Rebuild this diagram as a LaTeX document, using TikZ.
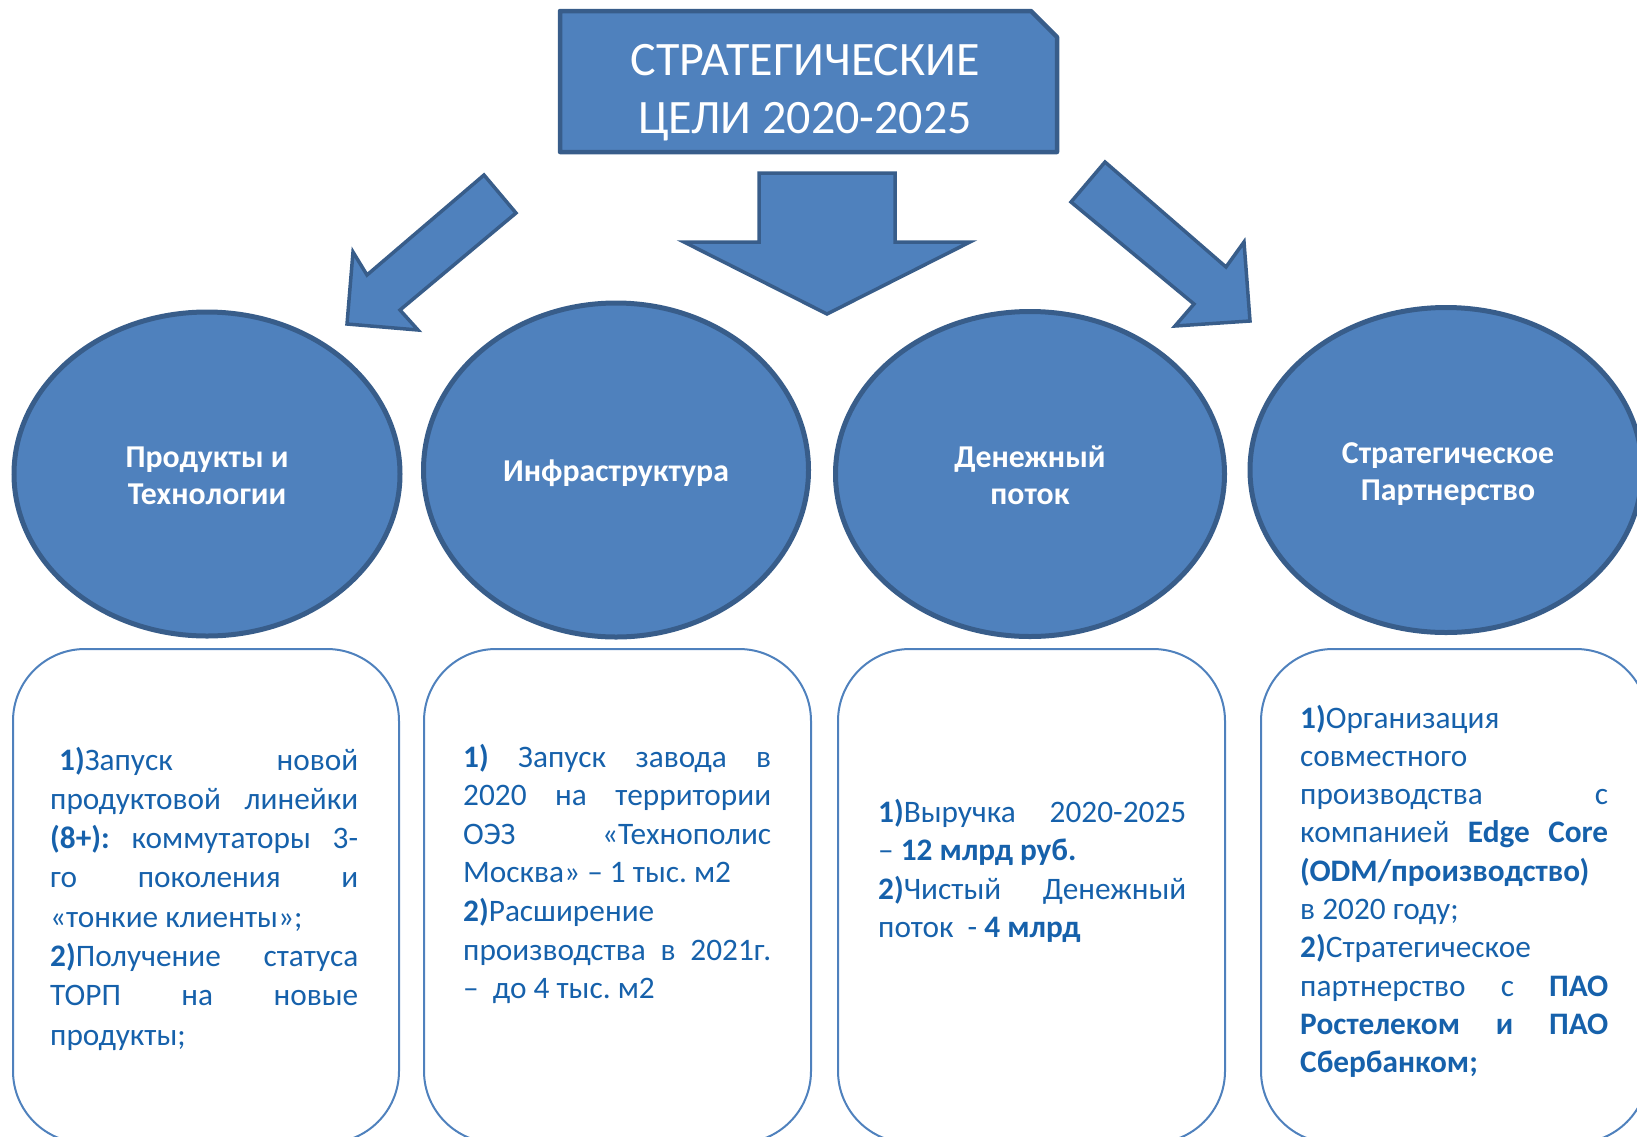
\documentclass[tikz,border=0pt]{standalone}
\usepackage{fontspec}
\setmainfont{Carlito}
\usetikzlibrary{shapes.geometric}
\definecolor{fillblue}{RGB}{79,129,189}
\definecolor{edgeblue}{RGB}{56,93,138}
\definecolor{txtblue}{RGB}{22,97,171}
\newcommand{\jl}[1]{\makebox[308pt][s]{\spaceskip=0.226em plus 1fil\relax\xspaceskip=0pt\relax #1}\\}
\frenchspacing
\begin{document}
\begin{tikzpicture}[x=1pt,y=-1pt,
  natspace/.style={execute at begin node={\spaceskip=0pt\xspaceskip=0pt\relax}},
  blockarrow/.style={fill=fillblue,draw=edgeblue,line width=3.5pt,line join=miter},
  titlebox/.style={fill=fillblue,draw=edgeblue,line width=4.5pt,line join=round},
  titletext/.style={text=white,inner sep=0pt,anchor=base,font=\fontsize{48}{58}\selectfont},
  goal/.style={ellipse,fill=fillblue,draw=edgeblue,line width=5pt,inner sep=0pt},
  goaltext/.style={text=white,inner sep=0pt,anchor=base,font=\fontsize{31.8}{37.5}\selectfont\bfseries},
  infobox/.style={draw=fillblue,line width=2pt,rounded corners=72pt,inner sep=0pt},
  infotext/.style={natspace,text=txtblue,inner sep=0pt,text width=308pt,align=left,font=\fontsize{31.3}{38.6}\selectfont\frenchspacing}
]
\useasboundingbox (0,0) rectangle (1637,1136);
\clip (0,0) rectangle (1637,1136);

% title
\draw[titlebox] (560,11) -- (1031,11) -- (1057,37) -- (1057,152) -- (560,152) -- cycle;
\node[titletext] (title1) at (805,75.5) {СТРАТЕГИЧЕСКИЕ};
\node[titletext] (title2) at (805,133.5) {ЦЕЛИ 2020-2025};

% block arrows
\draw[blockarrow] (484,175) -- (516,213) -- (400,310) -- (418,330) -- (347,324) -- (353,252) -- (367,275) -- cycle;
\draw[blockarrow] (759,173) -- (895,173) -- (895,242) -- (970,242) -- (827,314) -- (684,242) -- (759,242) -- cycle;
\draw[blockarrow] (1105,162) -- (1071,202) -- (1194,304) -- (1175,326) -- (1250,321) -- (1244,242) -- (1226,267) -- cycle;

% goals
\node[goal,minimum width=386pt,minimum height=324pt] (g1) at (207,474) {};
\node[goal,minimum width=385pt,minimum height=334pt] (g2) at (616,470) {};
\node[goal,minimum width=389pt,minimum height=325pt] (g3) at (1030,474) {};
\node[goal,minimum width=392pt,minimum height=325pt] (g4) at (1446,470) {};
\node[goaltext] (gt1a) at (207,467) {Продукты и};
\node[goaltext] (gt1b) at (207,504.5) {Технологии};
\node[goaltext] (gt2) at (616,481) {Инфраструктура};
\node[goaltext] (gt3a) at (1030,467) {Денежный};
\node[goaltext] (gt3b) at (1030,504.5) {поток};
\node[goaltext] (gt4a) at (1448,463) {Стратегическое};
\node[goaltext] (gt4b) at (1448,500.5) {Партнерство};

% info boxes
\node[infobox,minimum width=386pt,minimum height=494pt,anchor=north west] (b1) at (12,648) {};
\node[infobox,minimum width=387pt,minimum height=494pt,anchor=north west] (b2) at (423,648) {};
\node[infobox,minimum width=387pt,minimum height=494pt,anchor=north west] (b3) at (837,648) {};
\node[infobox,minimum width=387pt,minimum height=494pt,anchor=north west] (b4) at (1260,648) {};

\node[infotext,anchor=base west,font=\fontsize{31.3}{39.3}\selectfont] (x1) at (50,770) {%
\jl{\hspace{9pt}\textbf{1)}Запуск новой}
\jl{продуктовой линейки}
\jl{\textbf{(8+):} коммутаторы 3-}
\jl{го поколения и}
«тонкие клиенты»;\\
\jl{\textbf{2)}Получение статуса}
\jl{ТОРП на новые}
продукты;};

\node[infotext,anchor=base west] (x2) at (463,767) {%
\jl{\textbf{1)} Запуск завода в}
\jl{2020 на территории}
\jl{ОЭЗ «Технополис}
Москва» – 1 тыс. м2\\
\textbf{2)}Расширение\\
\jl{производства в 2021г.}
–\ \ до 4 тыс. м2};

\node[infotext,anchor=base west] (x3) at (878,822) {%
\jl{\textbf{1)}Выручка 2020-2025}
– \textbf{12 млрд руб.}\\
\jl{\textbf{2)}Чистый Денежный}
поток\ \ - \textbf{4 млрд}};

\node[infotext,anchor=base west,font=\fontsize{31.3}{38.3}\selectfont] (x4) at (1300,728) {%
\textbf{1)}Организация\\
совместного\\
\jl{производства с}
\jl{компанией \textbf{Edge Core}}
\textbf{(ODM/производство)}\\
в 2020 году;\\
\textbf{2)}Стратегическое\\
\jl{партнерство с \textbf{ПАО}}
\jl{\textbf{Ростелеком и ПАО}}
\textbf{Сбербанком;}};
\end{tikzpicture}
\end{document}
